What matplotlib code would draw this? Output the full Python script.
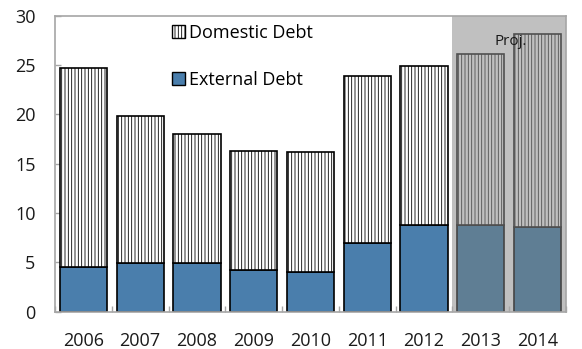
import numpy as np
import matplotlib.pyplot as plt
from matplotlib.patches import Patch

years = ['2006', '2007', '2008', '2009', '2010', '2011', '2012', '2013', '2014']
total_debt = [24.7, 19.8, 18.0, 16.3, 16.2, 23.9, 24.9, 26.1, 28.1]
external_debt = [4.55, 4.9, 4.9, 4.25, 4.05, 7.0, 8.8, 8.75, 8.55]
domestic_debt = [t - e for t, e in zip(total_debt, external_debt)]
n_hist = 7  # last two years are projections

plt.rcParams['font.family'] = ['Open Sans', 'DejaVu Sans']
plt.rcParams['hatch.linewidth'] = 0.6

fig = plt.figure(figsize=(5.82, 3.49), dpi=100)
ax = fig.add_axes([0.0945, 0.107, 0.878, 0.848])

x = np.arange(len(years))
w = 0.83

# shaded projection period
ax.axvspan(n_hist - 0.5, len(years) - 0.5, color='#c0c0c0', zorder=0, lw=0)

# historical years
ax.bar(x[:n_hist], external_debt[:n_hist], w, color='#4a7eac',
       edgecolor='black', lw=1.2, zorder=2)
ax.bar(x[:n_hist], domestic_debt[:n_hist], w, bottom=external_debt[:n_hist],
       color='white', edgecolor='black', hatch='|||||', lw=1.2, zorder=2)

# projections
ax.bar(x[n_hist:], external_debt[n_hist:], w, color='#5f7e94',
       edgecolor='#454545', lw=1.2, zorder=2)
ax.bar(x[n_hist:], domestic_debt[n_hist:], w, bottom=external_debt[n_hist:],
       color='#c0c0c0', edgecolor='#505050', hatch='|||||', lw=1.2, zorder=2)

ax.text(7.52, 27.4, 'Proj.', ha='center', va='center', fontsize=11,
        color='#1a1a1a', zorder=3)

ax.set_xlim(-0.5, len(years) - 0.5)
ax.set_ylim(0, 30)
ax.set_yticks([0, 5, 10, 15, 20, 25, 30])
ax.set_xticks(x)
ax.set_xticklabels(years)
ax.set_xticks(np.arange(-0.5, len(years)), minor=True)

ax.tick_params(axis='y', direction='in', length=4, width=1, color='#a6a6a6',
               labelsize=13, pad=14, labelcolor='#1a1a1a')
ax.tick_params(axis='x', which='major', length=0, labelsize=13, pad=15,
               labelcolor='#1a1a1a')
ax.tick_params(axis='x', which='minor', direction='in', length=4, width=1,
               color='#a6a6a6')

for s in ax.spines.values():
    s.set_color('#a6a6a6')
    s.set_linewidth(1.2)

handles = [Patch(facecolor='white', edgecolor='black', hatch='|||||', lw=1.0),
           Patch(facecolor='#4a7eac', edgecolor='black', lw=1.0)]
ax.legend(handles, ['Domestic Debt', 'External Debt'], loc='upper left',
          bbox_to_anchor=(0.215, 0.997), frameon=False, fontsize=13,
          handlelength=0.7, handleheight=0.7, handletextpad=0.25,
          labelspacing=1.6, borderaxespad=0)

fig.savefig('out.png', dpi=100)
